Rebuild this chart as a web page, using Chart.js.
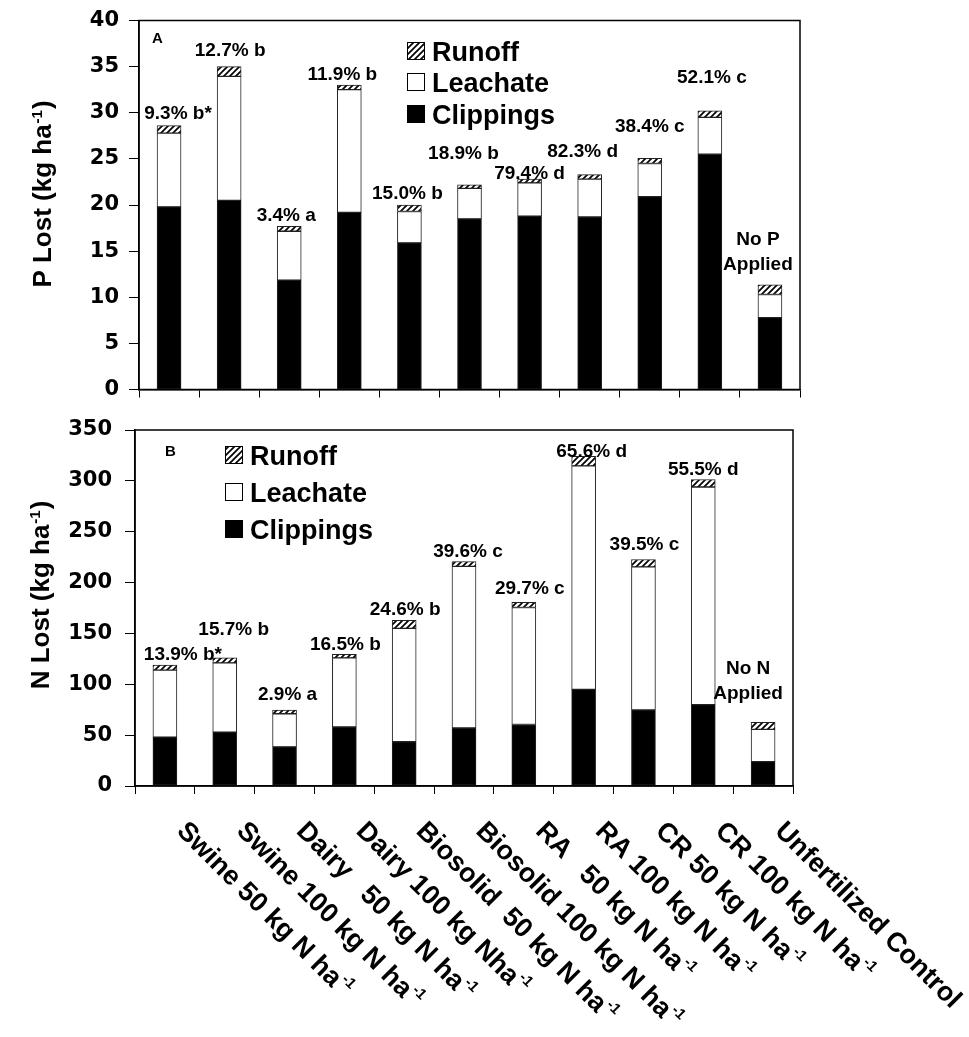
<!DOCTYPE html>
<html>
<head>
<meta charset="utf-8">
<script src="https://cdn.jsdelivr.net/npm/chart.js@4.4.1/dist/chart.umd.min.js"></script>
<style>
  html, body { margin: 0; padding: 0; background: #fff; }
  body { width: 969px; height: 1037px; position: relative; overflow: hidden; }
  .panel { position: absolute; left: 0; width: 969px; }
  #topBox { top: 0; height: 410px; }
  #botBox { top: 405px; height: 632px; }
</style>
</head>
<body>
<div class="panel" id="topBox"><canvas id="pChart"></canvas></div>
<div class="panel" id="botBox"><canvas id="nChart"></canvas></div>
<script>
// categories (the part after ^ is drawn as superscript)
const categories = [
  'Swine 50 kg N ha^-1', 'Swine 100 kg N ha^-1', 'Dairy   50 kg N ha^-1', 'Dairy 100 kg Nha^-1',
  'Biosolid  50 kg N ha^-1', 'Biosolid 100 kg N ha^-1', 'RA   50 kg N ha^-1', 'RA 100 kg N ha^-1',
  'CR 50 kg N ha^-1', 'CR 100 kg N ha^-1', 'Unfertilized Control'
];

// panel A - P lost (kg ha-1)
const pClippings = [19.8, 20.5, 11.85, 19.2, 15.9, 18.5, 18.8, 18.7, 20.9, 25.5, 7.8];
const pLeachate  = [8.0, 13.45, 5.3, 13.3, 3.4, 3.3, 3.6, 4.1, 3.6, 4.0, 2.5];
const pRunoff    = [0.8, 1.05, 0.55, 0.5, 0.7, 0.4, 0.4, 0.5, 0.55, 0.7, 1.05];
const pNotes = ['9.3% b*', '12.7% b', '3.4% a', '11.9% b', '15.0% b', '18.9% b',
                '79.4% d', '82.3% d', '38.4% c', '52.1% c', 'No P\nApplied'];

// panel B - N lost (kg ha-1)
const nClippings = [48, 53, 38.5, 58, 43.5, 57, 60.5, 95, 74.7, 80, 24];
const nLeachate  = [66, 68, 32.5, 68, 111.4, 159, 115, 219.7, 140.7, 214, 31.7];
const nRunoff    = [5, 5, 3.7, 3.4, 7.9, 4.7, 5, 9.3, 7.3, 7.3, 7];
const nNotes = ['13.9% b*', '15.7% b', '2.9% a', '16.5% b', '24.6% b', '39.6% c',
                '29.7% c', '65.6% d', '39.5% c', '55.5% d', 'No N\nApplied'];

const seriesNames = ['Clippings', 'Leachate', 'Runoff'];

// label nudges in px (dx, dy from bar top)
const pNoteShift = [[9,-14],[1,-18],[-3,-12],[-7,-12],[-2,-13],[-6,-33],[0,-7],[-7,-25],[0,-33],[2,-35],[-12,-47]];
const nNoteShift = [[18,-12],[9,-30],[3,-17],[1,-11],[1,-12],[4,-12],[6,-15],[8,-6],[1,-16],[0,-12],[-15,-55]];

const FONT = '"Liberation Sans", Arial, Helvetica, sans-serif';

function makeHatch() {
    const c = document.createElement('canvas');
    c.width = 6; c.height = 6;
    const g = c.getContext('2d');
    g.fillStyle = '#fff';
    g.fillRect(0, 0, 6, 6);
    g.strokeStyle = '#000';
    g.lineWidth = 1.7;
    g.beginPath();
    g.moveTo(0, 6); g.lineTo(6, 0);
    g.moveTo(-1, 1); g.lineTo(1, -1);
    g.moveTo(5, 7); g.lineTo(7, 5);
    g.stroke();
    return g.createPattern(c, 'repeat');
}
const hatch = makeHatch();

// text with a trailing superscript, horizontal in current frame
function drawSupText(ctx, main, sup, tail, x, y, size, supSize, align) {
    ctx.font = 'bold ' + size + 'px ' + FONT;
    const w1 = ctx.measureText(main).width;
    const w3 = tail ? ctx.measureText(tail).width : 0;
    ctx.font = 'bold ' + supSize + 'px ' + FONT;
    const w2 = sup ? ctx.measureText(sup).width : 0;
    let x0 = x;
    if (align === 'center') x0 = x - (w1 + w2 + w3) / 2;
    ctx.textAlign = 'left';
    ctx.font = 'bold ' + size + 'px ' + FONT;
    ctx.fillText(main, x0, y);
    if (sup) {
        ctx.font = 'bold ' + supSize + 'px ' + FONT;
        ctx.fillText(sup, x0 + w1 + 1, y - size * 0.33);
    }
    if (tail) {
        ctx.font = 'bold ' + size + 'px ' + FONT;
        ctx.fillText(tail, x0 + w1 + w2 + 2, y);
    }
}

const extras = {
    id: 'extras',
    afterDraw(chart, args, o) {
        const ctx = chart.ctx;
        const a = chart.chartArea;
        const xs = chart.scales.x, ys = chart.scales.y;
        ctx.save();

        // frame around plot
        ctx.strokeStyle = '#000';
        ctx.lineWidth = 1.5;
        ctx.strokeRect(a.left, a.top, a.right - a.left, a.bottom - a.top);

        ctx.fillStyle = '#000';
        ctx.textBaseline = 'alphabetic';

        // panel letter
        ctx.font = 'bold 15px ' + FONT;
        ctx.textAlign = 'left';
        ctx.fillText(o.panel, o.panelX, o.panelY);

        // legend
        const fills = { Runoff: hatch, Leachate: '#fff', Clippings: '#000' };
        o.legendRows.forEach((cy, k) => {
            const name = ['Runoff', 'Leachate', 'Clippings'][k];
            ctx.fillStyle = fills[name];
            ctx.fillRect(o.legendX, cy - 9, 18, 18);
            ctx.strokeStyle = '#000';
            ctx.lineWidth = 1;
            ctx.strokeRect(o.legendX + 0.5, cy - 8.5, 17, 17);
            ctx.fillStyle = '#000';
            ctx.font = 'bold 27px ' + FONT;
            ctx.textAlign = 'left';
            ctx.fillText(name, o.legendX + 25, cy + 10);
        });

        // notes above bars
        ctx.font = 'bold 19px ' + FONT;
        ctx.textAlign = 'center';
        o.notes.forEach((txt, i) => {
            let total = 0;
            chart.data.datasets.forEach(ds => { total += ds.data[i]; });
            const cx = xs.getPixelForValue(i) + o.shift[i][0];
            const cy = ys.getPixelForValue(total) + o.shift[i][1];
            txt.split('\n').forEach((line, j) => {
                ctx.fillText(line, cx, cy + 7 + j * 25);
            });
        });

        // y axis title
        ctx.save();
        ctx.translate(o.titleX, (a.top + a.bottom) / 2 + o.titleDy);
        ctx.rotate(-Math.PI / 2);
        drawSupText(ctx, o.title, '-1', ')', 0, 9, 26, 15, 'center');
        ctx.restore();

        // rotated category labels
        if (o.xLabels) {
            o.xLabels.forEach((lab, i) => {
                const parts = lab.split('^');
                ctx.save();
                ctx.translate(xs.getPixelForValue(i) + 16, a.bottom + 41);
                ctx.rotate(Math.PI / 4);
                ctx.textBaseline = 'middle';
                drawSupText(ctx, parts[0], parts[1] || '', '', 0, 0, 27, 15, 'left');
                ctx.restore();
            });
        }
        ctx.restore();
    }
};

function buildDatasets(clip, leach, run) {
    const base = { borderColor: '#222', borderWidth: 1, borderSkipped: false, barThickness: 24 };
    return [
        Object.assign({ label: seriesNames[0], data: clip, backgroundColor: '#000' }, base),
        Object.assign({ label: seriesNames[1], data: leach, backgroundColor: '#fff' }, base),
        Object.assign({ label: seriesNames[2], data: run, backgroundColor: hatch }, base)
    ];
}

function CreateStackChart(elementId, clip, leach, run, yMax, yStep, axisW, xH, pad, extraOpts, tickPad) {
    const data = {
        labels: categories.map(c => c.replace('^', '')),
        datasets: buildDatasets(clip, leach, run)
    };
    const config = {
        type: 'bar',
        data: data,
        plugins: [extras],
        options: {
            responsive: true,
            maintainAspectRatio: false,
            animation: false,
            layout: { padding: pad },
            plugins: {
                legend: { display: false },
                tooltip: { enabled: false },
                extras: extraOpts
            },
            scales: {
                x: {
                    stacked: true,
                    offset: true,
                    grid: { display: true, drawOnChartArea: false, drawTicks: true, tickLength: 8, color: '#000', offset: true },
                    border: { display: true, color: '#000', width: 1.5 },
                    ticks: { display: false },
                    afterFit: s => { s.height = xH; }
                },
                y: {
                    stacked: true,
                    min: 0,
                    max: yMax,
                    grid: { drawOnChartArea: false, drawTicks: true, tickLength: 10, color: '#000' },
                    border: { display: true, color: '#000', width: 1.5 },
                    ticks: {
                        stepSize: yStep,
                        padding: tickPad,
                        color: '#000',
                        font: { family: '"DejaVu Sans", sans-serif', weight: 'bold', size: 21, lineHeight: 1 }
                    },
                    afterFit: s => { s.width = axisW; }
                }
            }
        }
    };
    return new Chart(document.getElementById(elementId), config);
}

CreateStackChart('pChart', pClippings, pLeachate, pRunoff, 40, 5, 139, 14,
    { left: 0, top: 19, right: 169, bottom: 0 },
    { panel: 'A', panelX: 152, panelY: 43, legendX: 407, legendRows: [51, 82, 114],
      notes: pNotes, shift: pNoteShift, title: 'P Lost (kg ha', titleX: 42, titleDy: -10 }, 10);

CreateStackChart('nChart', nClippings, nLeachate, nRunoff, 350, 50, 135, 251,
    { left: 0, top: 25, right: 176, bottom: 0 },
    { panel: 'B', panelX: 165, panelY: 51, legendX: 225, legendRows: [50, 87, 124],
      notes: nNotes, shift: nNoteShift, title: 'N Lost (kg ha', titleX: 40, titleDy: -12,
      xLabels: categories }, 13);
</script>
</body>
</html>
